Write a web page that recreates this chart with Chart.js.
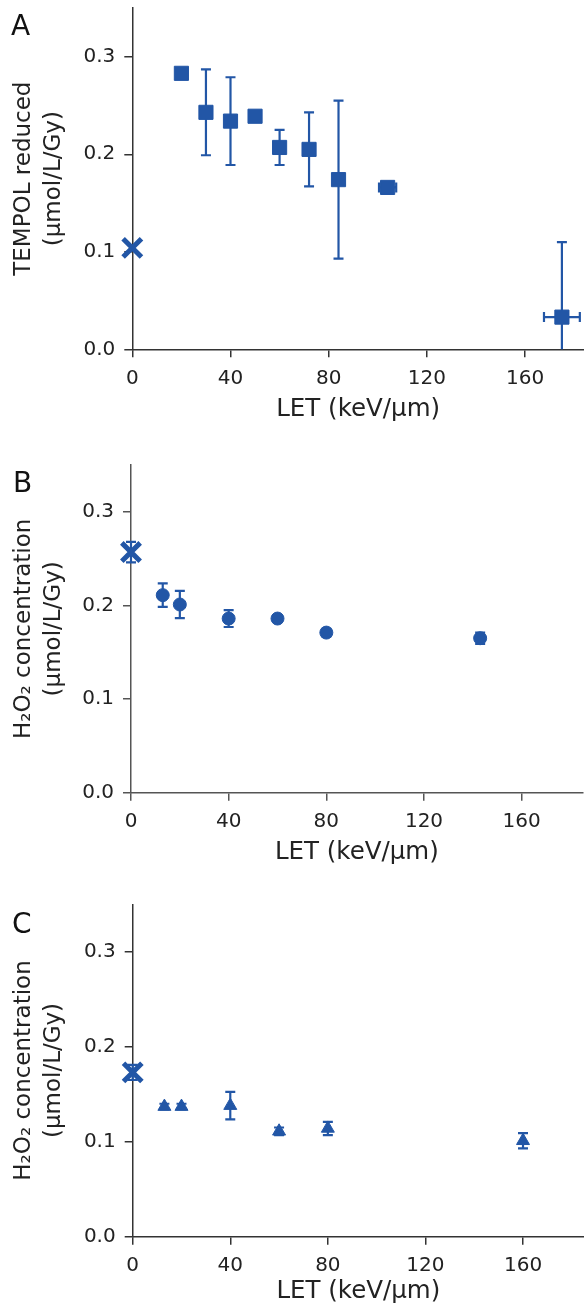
<!DOCTYPE html>
<html>
<head>
<meta charset="utf-8">
<script src="https://cdn.jsdelivr.net/npm/chart.js@4.4.1/dist/chart.umd.min.js"></script>
<style>
  body { margin: 0; background: #fff; }
  .painel { position: absolute; left: 0; width: 584px; }
</style>
</head>
<body>
<div class="painel" style="top:0px"><canvas id="graficoA" width="584" height="434"></canvas></div>
<div class="painel" style="top:434px"><canvas id="graficoB" width="584" height="436"></canvas></div>
<div class="painel" style="top:870px"><canvas id="graficoC" width="584" height="434"></canvas></div>
<script>
// Painel A - TEMPOL reduzido
const letA = [20, 30, 40, 50, 60, 72, 84, 104, 175];
const tempolA = [0.283, 0.243, 0.234, 0.239, 0.207, 0.205, 0.174, 0.166, 0.033];
const yerrA = [0, 0.044, 0.045, 0, 0.018, 0.038, 0.081, 0, 0.077];
const xerrA = [0, 0, 0, 0, 0, 0, 0, 3.5, 7.3];
const aguaA = 0.104;
const aguaErrA = 0;

// Painel B - H2O2
const letB = [13, 20, 40, 60, 80, 143];
const h2o2B = [0.211, 0.201, 0.186, 0.186, 0.171, 0.165];
const yerrB = [0.0125, 0.0145, 0.009, 0.003, 0.004, 0.006];
const aguaB = 0.257;
const aguaErrB = 0.011;

// Painel C - H2O2
const letC = [13, 20, 40, 60, 80, 160];
const h2o2C = [0.137, 0.137, 0.138, 0.111, 0.114, 0.101];
const yerrC = [0.003, 0.003, 0.0145, 0.004, 0.007, 0.008];
const aguaC = 0.173;
const aguaErrC = 0.008;

const xTicks = [0, 40, 80, 120, 160];
const yTicks = [0.0, 0.1, 0.2, 0.3];

const cor = '#2256a6';
const fonte = 'DejaVu Sans';

const errorBars = {
    id: 'errorBars',
    beforeDatasetsDraw(chart) {
        const { ctx, chartArea, scales: { x, y } } = chart;
        ctx.save();
        ctx.beginPath();
        ctx.rect(chartArea.left - 20, chartArea.top, chartArea.width + 40, chartArea.height);
        ctx.clip();
        ctx.strokeStyle = cor;
        ctx.lineWidth = 2.2;
        chart.data.datasets.forEach(ds => {
            ds.data.forEach((p, i) => {
                const px = x.getPixelForValue(p.x);
                const py = y.getPixelForValue(p.y);
                const ey = ds.yErr ? ds.yErr[i] : 0;
                const ex = ds.xErr ? ds.xErr[i] : 0;
                ctx.beginPath();
                if (ey > 0) {
                    const t = y.getPixelForValue(p.y + ey);
                    const b = y.getPixelForValue(p.y - ey);
                    ctx.moveTo(px, t); ctx.lineTo(px, b);
                    ctx.moveTo(px - 5, t); ctx.lineTo(px + 5, t);
                    ctx.moveTo(px - 5, b); ctx.lineTo(px + 5, b);
                }
                if (ex > 0) {
                    const l = x.getPixelForValue(p.x - ex);
                    const r = x.getPixelForValue(p.x + ex);
                    ctx.moveTo(l, py); ctx.lineTo(r, py);
                    ctx.moveTo(l, py - 5); ctx.lineTo(l, py + 5);
                    ctx.moveTo(r, py - 5); ctx.lineTo(r, py + 5);
                }
                ctx.stroke();
            });
        });
        ctx.restore();
    }
};

const letraPainel = {
    id: 'letraPainel',
    afterDraw(chart, args, opts) {
        const ctx = chart.ctx;
        ctx.save();
        ctx.fillStyle = '#111';
        ctx.font = '28px "' + fonte + '"';
        ctx.textBaseline = 'alphabetic';
        ctx.fillText(opts.texto, opts.x, opts.y);
        ctx.restore();
    }
};

function gerarGrafico(elementId, letra, xs, ys, yerr, xerr, agua, aguaErr, forma, raio, tituloY, lay) {
    const pontos = xs.map((v, i) => ({ x: v, y: ys[i] }));
    const corEixo = lay.corEixo;
    new Chart(document.getElementById(elementId), {
        type: 'scatter',
        data: {
            datasets: [
                {
                    data: [{ x: 0, y: agua }],
                    yErr: [aguaErr],
                    pointStyle: 'crossRot',
                    pointRadius: 13,
                    borderWidth: 5,
                    borderColor: cor,
                    backgroundColor: cor,
                    clip: false
                },
                {
                    data: pontos,
                    yErr: yerr,
                    xErr: xerr,
                    pointStyle: forma,
                    pointRadius: raio,
                    borderWidth: 1,
                    borderColor: cor,
                    backgroundColor: cor,
                    clip: false
                }
            ]
        },
        options: {
            responsive: false,
            animation: false,
            devicePixelRatio: 1,
            layout: { autoPadding: false, padding: { top: lay.topo, right: lay.direita, left: 0, bottom: 0 } },
            plugins: {
                legend: { display: false },
                tooltip: { enabled: false },
                letraPainel: { texto: letra, x: lay.letraX, y: lay.letraY }
            },
            scales: {
                x: {
                    type: 'linear',
                    min: 0,
                    max: lay.xMax,
                    afterFit: s => { s.height = lay.alturaX; s.paddingLeft = 0; s.paddingRight = 0; },
                    afterBuildTicks: s => { s.ticks = xTicks.map(v => ({ value: v })); },
                    border: { display: true, color: corEixo, width: 1.5 },
                    grid: { drawOnChartArea: false, drawTicks: true, tickLength: 8, color: corEixo, lineWidth: 1.5 },
                    ticks: { padding: lay.padTick, color: '#222', maxRotation: 0, font: { family: fonte, size: 20 } },
                    title: {
                        display: true,
                        text: 'LET (keV/μm)',
                        color: '#222',
                        font: { family: fonte, size: 24.5, lineHeight: 1 },
                        padding: { top: 0, bottom: lay.padTitulo }
                    }
                },
                y: {
                    min: 0,
                    max: 0.35,
                    afterFit: s => { s.width = lay.esquerda; s.paddingTop = 0; s.paddingBottom = 0; },
                    afterBuildTicks: s => { s.ticks = yTicks.map(v => ({ value: v })); },
                    border: { display: true, color: corEixo, width: 1.5 },
                    grid: { drawOnChartArea: false, drawTicks: true, tickLength: 8, color: corEixo, lineWidth: 1.5 },
                    ticks: { padding: 9, color: '#222', font: { family: fonte, size: 20 }, callback: v => v.toFixed(1) },
                    title: {
                        display: true,
                        text: tituloY,
                        color: '#222',
                        font: { family: fonte, size: 23, lineHeight: 1.3 },
                        padding: { top: 9, bottom: 0 }
                    }
                }
            }
        },
        plugins: [errorBars, letraPainel]
    });
}

gerarGrafico('graficoA', 'A', letA, tempolA, yerrA, xerrA, aguaA, aguaErrA, 'rect', 10,
    ['TEMPOL reduced', '(μmol/L/Gy)'],
    { topo: 8, direita: 0, esquerda: 132.3, xMax: 184, alturaX: 84.7, padTick: 9, padTitulo: 12.4, corEixo: '#333', letraX: 11, letraY: 35 });

gerarGrafico('graficoB', 'B', letB, h2o2B, yerrB, null, aguaB, aguaErrB, 'circle', 6.5,
    ['H₂O₂ concentration', '(μmol/L/Gy)'],
    { topo: 31, direita: 1.3, esquerda: 131, xMax: 185, alturaX: 77.3, padTick: 9, padTitulo: 5, corEixo: '#555', letraX: 13, letraY: 57.7 });

gerarGrafico('graficoC', 'C', letC, h2o2C, yerrC, null, aguaC, aguaErrC, 'triangle', 7.5,
    ['H₂O₂ concentration', '(μmol/L/Gy)'],
    { topo: 34.3, direita: 0, esquerda: 132.7, xMax: 185, alturaX: 67.3, padTick: 9, padTitulo: 0, corEixo: '#333', letraX: 12, letraY: 63 });
</script>
</body>
</html>
